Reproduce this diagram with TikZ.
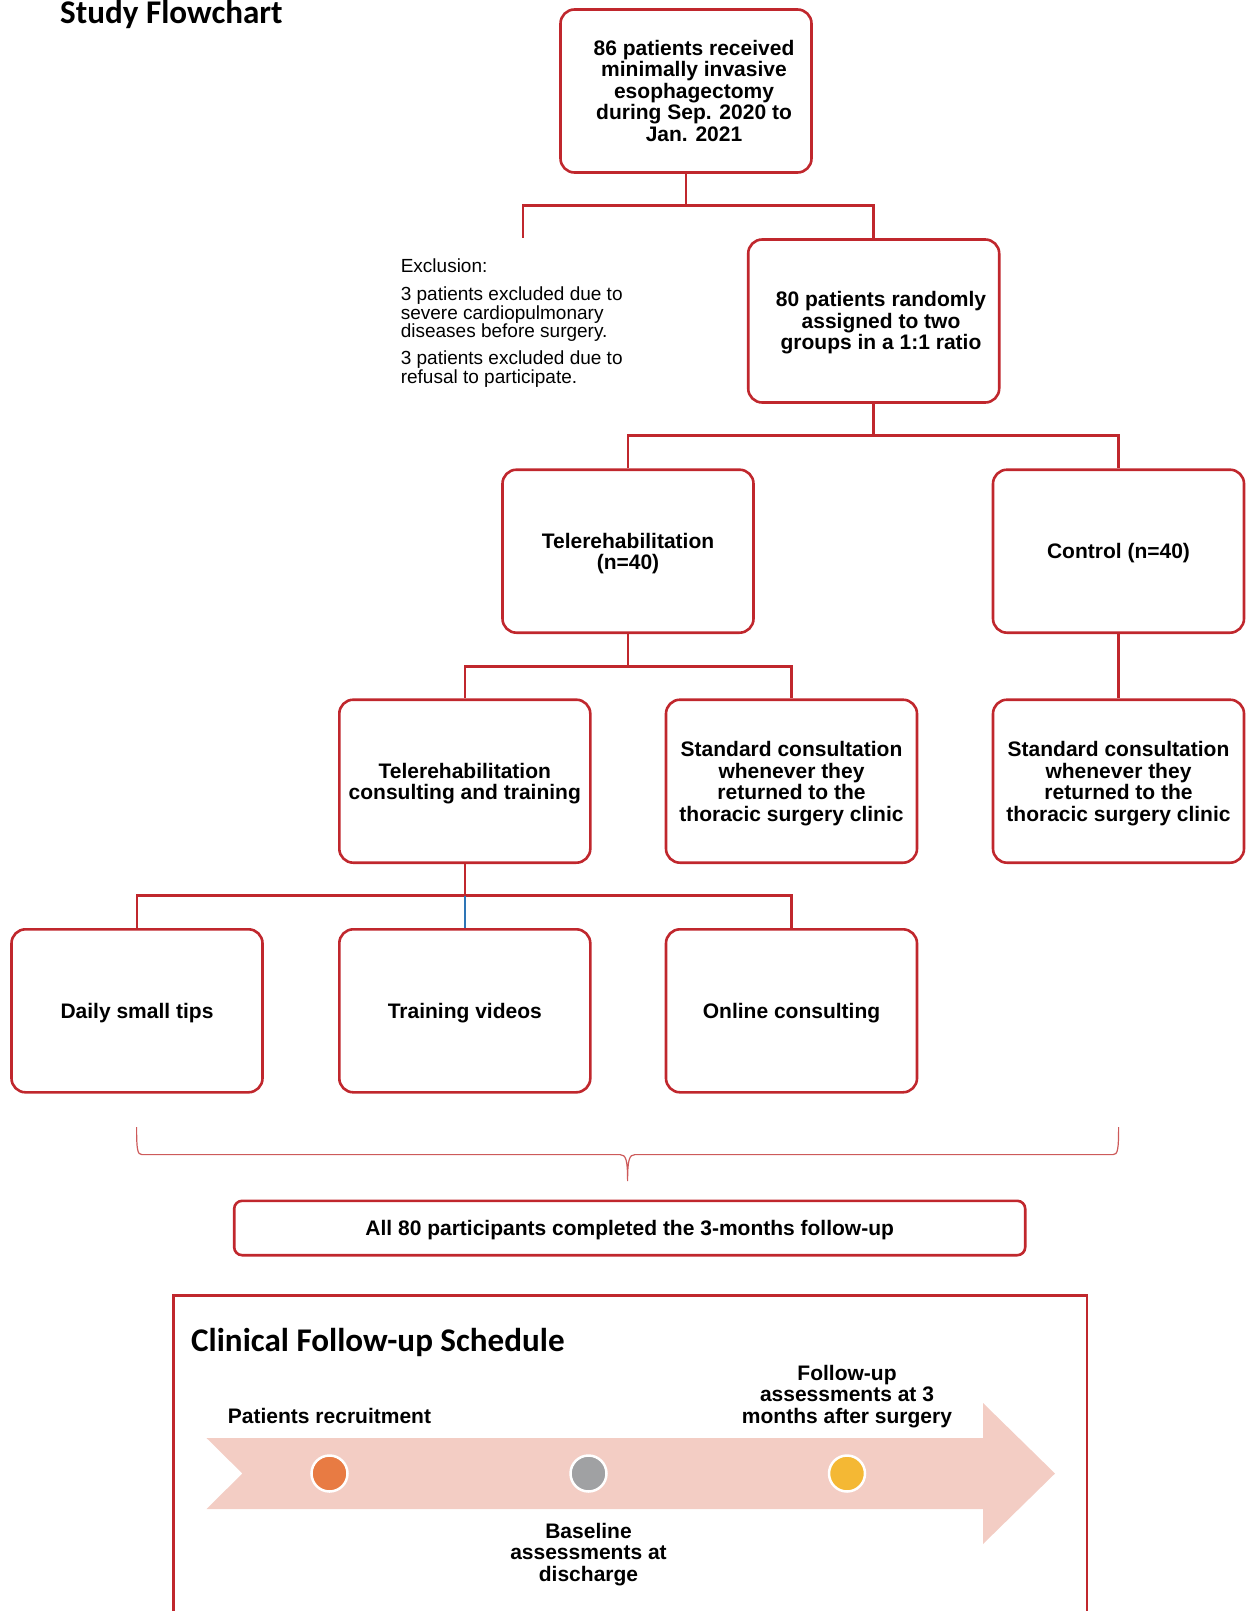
\documentclass[tikz,border=0pt]{standalone}
\usepackage{fontspec}
\setmainfont{Liberation Sans}
\newfontfamily\titlefont{Carlito}
\definecolor{boxred}{RGB}{192,39,45}
\definecolor{bracered}{RGB}{205,90,90}
\definecolor{lineblue}{RGB}{46,117,182}
\definecolor{arrowpink}{RGB}{243,205,196}
\definecolor{dotorange}{RGB}{232,123,67}
\definecolor{dotgrey}{RGB}{160,161,163}
\definecolor{dotyellow}{RGB}{244,184,52}
\tikzset{
  box/.style={draw=boxred, line width=2.6pt, rounded corners=14pt, minimum width=251pt, minimum height=163pt, inner sep=0pt, align=center, text depth=0pt, font=\fontsize{21}{21.5}\selectfont\bfseries},
  btxt/.style={font=\fontsize{21}{21.5}\selectfont\bfseries, align=center, inner sep=0pt, text depth=0pt},
  conn/.style={draw=boxred, line width=2.6pt},
  dot/.style={circle, draw=white, line width=2.5pt, minimum size=36pt, inner sep=0pt},
  bigtitle/.style={font=\titlefont\bfseries\fontsize{33.1}{34}\selectfont, inner sep=0pt, anchor=base west},
}
\begin{document}
\begin{tikzpicture}[x=1pt,y=-1pt]
\useasboundingbox (0,0) rectangle (1245,1611);

\node[bigtitle] (title) at (60,23.5) {Study Flowchart};

% boxes
\node[box] (b1) at (686,91) {};
\node[btxt] (t1) at (694,90.5) {86 patients received\\minimally invasive\\esophagectomy\\during Sep. 2020 to\\Jan. 2021};
\node[box] (b2) at (873.7,321) {};
\node[btxt] (t2) at (881,320.5) {80 patients randomly\\assigned to two\\groups in a 1:1 ratio};

\node[inner sep=0pt, anchor=north west, align=left, font=\fontsize{19}{18.6}\selectfont] (ex) at (400.6,259)
 {Exclusion:\\[9.2pt]3 patients excluded due to\\severe cardiopulmonary\\diseases before surgery.\\[8pt]3 patients excluded due to\\refusal to participate.};

\node[box] (tele) at (628,551.2) {Telerehabilitation\\(n=40)};
\node[box] (ctrl) at (1118.5,551.2) {Control (n=40)};

\node[box] (tc) at (464.8,781.2) {Telerehabilitation\\consulting and training};
\node[box] (sc1) at (791.5,781.2) {Standard consultation\\whenever they\\returned to the\\thoracic surgery clinic};
\node[box] (sc2) at (1118.5,781.2) {Standard consultation\\whenever they\\returned to the\\thoracic surgery clinic};

\node[box] (daily) at (137,1010.8) {Daily small tips};
\node[box] (train) at (464.8,1010.8) {Training videos};
\node[box] (online) at (791.5,1010.8) {Online consulting};

\node[box, minimum width=791pt, minimum height=54.4pt, rounded corners=8pt] (final) at (629.7,1228) {All 80 participants completed the 3-months follow-up};

% connectors
\coordinate (j1) at (686,205.4);
\coordinate (exend) at (523,238.3);
\draw[conn] (b1.south) -- (j1) -| (exend);
\draw[conn] (j1) -| (b2.north);

\coordinate (j2) at (873.7,435.5);
\draw[conn] (b2.south) -- (j2);
\draw[conn] (j2) -| (tele.north);
\draw[conn] (j2) -| (ctrl.north);

\coordinate (j3) at (628,666.7);
\draw[conn] (tele.south) -- (j3);
\draw[conn] (j3) -| (tc.north);
\draw[conn] (j3) -| (sc1.north);
\draw[conn] (ctrl.south) -- (sc2.north);

\coordinate (j4) at (464.8,895.7);
\draw[conn] (tc.south) -- (j4);
\draw[conn] (j4) -| (daily.north);
\draw[conn] (j4) -| (online.north);
\draw[draw=lineblue, line width=2pt] (j4) -- (train.north);

% brace
\draw[draw=bracered, line width=1.2pt]
  (136.6,1127) .. controls (136.6,1150) and (137.5,1154.6) .. (142,1154.6)
  -- (620,1154.6) .. controls (626,1154.6) and (627.6,1160) .. (627.6,1181)
  .. controls (627.6,1160) and (629.2,1154.6) .. (635,1154.6)
  -- (1113,1154.6) .. controls (1117.7,1154.6) and (1118.6,1150) .. (1118.6,1127);

% schedule frame
\draw[draw=boxred, line width=2.2pt] (173.5,1620) -- (173.5,1295.5) -- (1087,1295.5) -- (1087,1620);
\node[bigtitle] (stitle) at (191,1351) {Clinical Follow-up Schedule};

\fill[arrowpink] (206.5,1438) -- (983,1438) -- (983,1403) -- (1055,1473.5) -- (983,1544) -- (983,1509) -- (206.5,1509) -- (242.4,1473.5) -- cycle;

\node[dot, fill=dotorange] (c1) at (329.5,1473.5) {};
\node[dot, fill=dotgrey] (c2) at (588.5,1473.5) {};
\node[dot, fill=dotyellow] (c3) at (847,1473.5) {};

\node[btxt] (l1) at (329.5,1415.5) {Patients recruitment};
\node[btxt] (l3) at (847,1394) {Follow-up\\assessments at 3\\months after surgery};
\node[btxt] (l2) at (588.5,1552) {Baseline\\assessments at\\discharge};
\end{tikzpicture}
\end{document}
